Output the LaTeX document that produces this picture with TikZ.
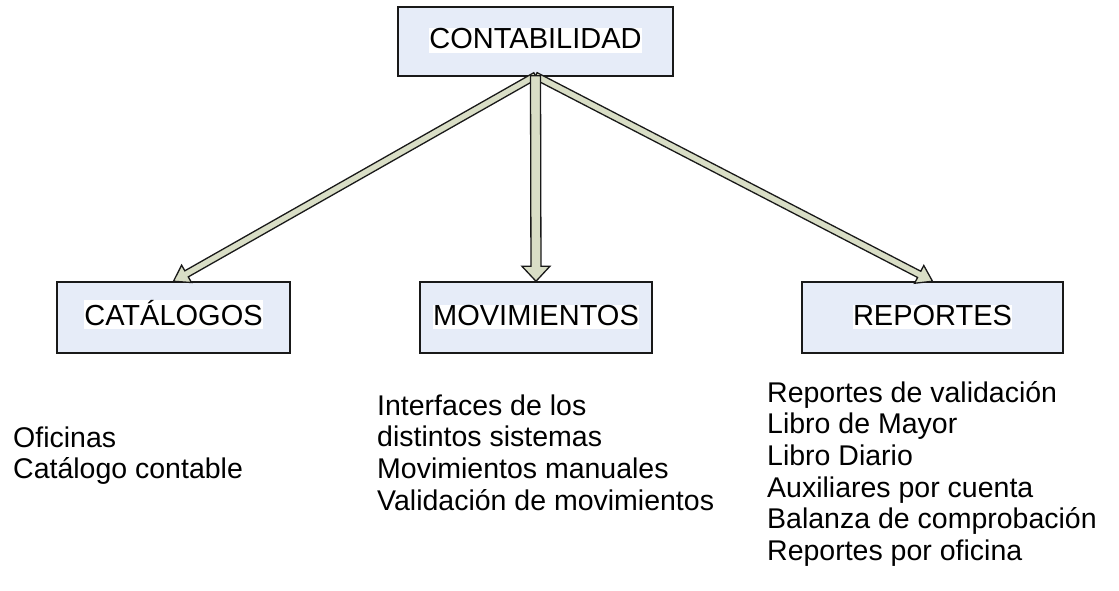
\documentclass[tikz,border=0pt]{standalone}
\usepackage{fontspec}
\setmainfont{Liberation Sans}
\usetikzlibrary{calc}
\definecolor{boxfill}{RGB}{230,236,248}
\definecolor{arrowfill}{RGB}{217,222,198}
\definecolor{edge}{RGB}{25,25,25}
\newcommand{\wbg}[1]{{\setlength{\fboxsep}{0pt}\colorbox{white}{\rule[-4pt]{0pt}{24.5pt}#1}}}
\newcommand{\blkarrow}[5]{%
  \coordinate (hb) at ($(#2)!#5!(#1)$);
  \filldraw[arrowpoly]
    ($(#1)!#3!90:(#2)$) -- ($(hb)!#3!90:(#2)$) -- ($(hb)!#4!90:(#2)$) -- (#2)
    -- ($(hb)!#4!-90:(#2)$) -- ($(hb)!#3!-90:(#2)$) -- ($(#1)!#3!-90:(#2)$) -- cycle;}
\begin{document}
\begin{tikzpicture}[x=1pt,y=-1pt,
  box/.style={draw=edge, fill=boxfill, line width=1.5pt, inner sep=0pt,
    text height=20pt, text depth=5pt,
    font=\fontsize{29}{32}\selectfont},
  arrowpoly/.style={draw=edge, fill=arrowfill, line width=1.3pt, line join=miter},
  listtext/.style={anchor=north west, inner sep=0pt, align=left,
    font=\fontsize{28.5}{31.6}\selectfont}]
\useasboundingbox (0,0) rectangle (1119,591);
\fill[white] (0,0) rectangle (1119,591);

\node[box, minimum width=275pt, minimum height=69pt] (contab) at (535.5,41.5) {\wbg{CONTABILIDAD}};
\node[box, minimum width=233pt, minimum height=71pt] (cat) at (173.5,317.5) {\wbg{CATÁLOGOS}};
\node[box, minimum width=232pt, minimum height=71pt] (mov) at (536,317.5) {\wbg{MOVIMIENTOS}};
\node[box, minimum width=261pt, minimum height=71pt] (rep) at (932.5,317.5) {\wbg{REPORTES}};

\coordinate (apex) at ($(contab.south)+(0,-1)$);
\blkarrow{apex}{cat.north}{3.5pt}{10pt}{15pt}
\blkarrow{apex}{rep.north}{3.5pt}{10pt}{15pt}
\blkarrow{apex}{mov.north}{5pt}{14pt}{15pt}

\node[listtext] (catlist) at (13,420) {\rule{0pt}{27pt}Oficinas\\Catálogo contable};
\node[listtext] (movlist) at (377,388) {\rule{0pt}{27pt}Interfaces de los\\distintos sistemas\\Movimientos manuales\\Validación de movimientos};
\node[listtext] (replist) at (767,375) {\rule{0pt}{27pt}Reportes de validación\\Libro de Mayor\\Libro Diario\\Auxiliares por cuenta\\Balanza de comprobación\\Reportes por oficina};
\end{tikzpicture}
\end{document}
